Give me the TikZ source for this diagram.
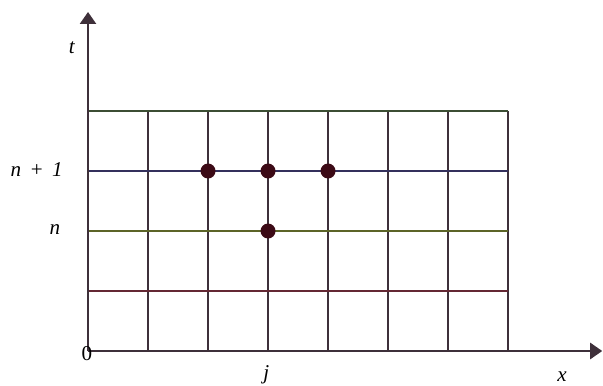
\documentclass[tikz,border=0pt]{standalone}
\usepackage{fontspec}
\setmainfont{Liberation Serif}
\usetikzlibrary{arrows.meta}

\definecolor{gridline}{RGB}{62,48,58}
\definecolor{topline}{RGB}{60,78,52}
\definecolor{blueline}{RGB}{52,48,92}
\definecolor{greenline}{RGB}{92,100,40}
\definecolor{redline}{RGB}{100,40,52}
\definecolor{dotcol}{RGB}{60,10,22}

\begin{document}
\begin{tikzpicture}[
	axis/.style={draw=gridline, line width=0.9pt, -{Triangle[length=2mm,width=2.7mm]}},
	gline/.style={draw=gridline, line width=0.9pt},
	lab/.style={font=\itshape, inner sep=1pt},
	pnt/.style={circle, fill=dotcol, inner sep=0pt, minimum size=2.5mm},
	]
	\useasboundingbox (-1.467,-0.567) rectangle (8.583,5.85);

	%Gitter
	\foreach \i in {1,...,7}
		\draw[gline] (\i,0) -- (\i,4);
	\draw[gline, draw=redline] (0,1) -- (7,1);
	\draw[gline, draw=greenline] (0,2) -- (7,2);
	\draw[gline, draw=blueline] (0,3) -- (7,3);
	\draw[gline, draw=topline] (0,4) -- (7,4);

	%Achsen
	\coordinate (o) at (0,0);
	\coordinate (xend) at (8.57,0);
	\coordinate (tend) at (0,5.65);
	\path[axis] (o) -- (xend);
	\path[axis] (o) -- (tend);

	\node[inner sep=0pt] (null) at (-0.02,-0.05) {0};
	\node[lab] (tlab) at (-0.27,5.05) {t};
	\node[lab] (xlab) at (7.9,-0.43) {x};
	\node[lab] (jlab) at (2.97,-0.4) {j};
	\node[lab, anchor=east] (nlab) at (-0.42,2.02) {n};
	\node[anchor=east, inner sep=1pt] (n1lab) at (-0.38,3.02) {\textit{n}\hspace{0.45em}+\hspace{0.45em}\textit{1}};

	%Punkte
	\node[pnt] (left) at (2,3) {};
	\node[pnt] (mid) at (3,3) {};
	\node[pnt] (right) at (4,3) {};
	\node[pnt] (below) at (3,2) {};
\end{tikzpicture}
\end{document}
